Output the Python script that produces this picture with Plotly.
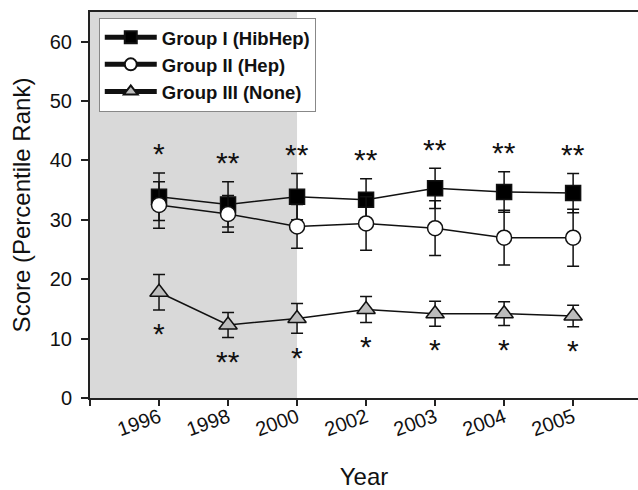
import plotly.graph_objects as go

# Survey years and group scores (mean percentile rank with error)
years = ["1996", "1998", "2000", "2002", "2003", "2004", "2005"]
group1_mean = [33.9, 32.6, 33.9, 33.4, 35.3, 34.7, 34.5]
group1_err = [4.0, 3.8, 3.9, 3.5, 3.4, 3.4, 3.3]
group2_mean = [32.5, 31.0, 28.9, 29.4, 28.6, 27.0, 27.0]
group2_err = [3.9, 3.1, 3.7, 4.5, 4.6, 4.6, 4.8]
group3_mean = [17.8, 12.3, 13.4, 14.9, 14.2, 14.2, 13.8]
group3_err = [3.0, 2.1, 2.5, 2.2, 2.1, 2.0, 1.8]

# Significance markers above the top group and below the bottom group
sig_upper = ["*", "**", "**", "**", "**", "**", "**"]
sig_lower = ["*", "**", "*", "*", "*", "*", "*"]

shade_until = "2000"

FONT = "Liberation Sans, Arial, sans-serif"
pos = list(range(len(years)))

fig = go.Figure()


def add_group(name, mean, err, symbol, fill, size):
    fig.add_trace(go.Scatter(
        x=pos, y=mean, name=name, mode="lines+markers",
        line=dict(color="#111111", width=1.5),
        marker=dict(symbol=symbol, size=size, color=fill,
                    line=dict(color="#111111", width=1.5)),
        error_y=dict(type="data", array=err, visible=True,
                     color="#111111", thickness=1.5, width=6),
    ))


add_group("Group I (HibHep)", group1_mean, group1_err, "square", "#000000", 15)
add_group("Group II (Hep)", group2_mean, group2_err, "circle", "#ffffff", 15)
add_group("Group III (None)", group3_mean, group3_err, "triangle-up", "#bdbdbd", 16)

# Shaded period up to the 2000 survey
fig.add_shape(type="rect", xref="x", yref="paper",
              x0=-1, x1=years.index(shade_until), y0=0, y1=1,
              fillcolor="#d9d9d9", line=dict(width=0), layer="below")

for i, txt in enumerate(sig_upper):
    fig.add_annotation(x=pos[i], y=group1_mean[i] + group1_err[i] + 3.2,
                       text=txt, showarrow=False, yanchor="middle",
                       font=dict(family=FONT, size=30, color="#111111"))
for i, txt in enumerate(sig_lower):
    fig.add_annotation(x=pos[i], y=group3_mean[i] - group3_err[i] - 4.0,
                       text=txt, showarrow=False, yanchor="middle",
                       font=dict(family=FONT, size=30, color="#111111"))

fig.update_layout(
    width=638, height=490,
    margin=dict(l=90, r=0, t=12, b=92),
    paper_bgcolor="white", plot_bgcolor="white",
    font=dict(family=FONT, color="#111111"),
    showlegend=True,
    legend=dict(x=0.016, y=0.985, xanchor="left", yanchor="top",
                bgcolor="white", bordercolor="#888888", borderwidth=1,
                font=dict(family=FONT, size=18.5, color="#111111", weight="bold"),
                tracegroupgap=0, itemsizing="constant", itemwidth=52),
    xaxis=dict(
        range=[-1, 6.94], tickmode="array",
        tickvals=[-1] + pos, ticktext=[""] + years,
        tickangle=-20, ticks="outside", ticklen=6, tickwidth=1.5,
        tickcolor="#222222", showline=True, linecolor="#222222",
        linewidth=2, mirror=True, showgrid=False, zeroline=False,
        tickfont=dict(family=FONT, size=20, color="#111111"),
        ticklabelstandoff=-8,
        title=dict(text="Year", standoff=34,
                   font=dict(family=FONT, size=24, color="#111111")),
    ),
    yaxis=dict(
        range=[0, 65], tickmode="linear", tick0=0, dtick=10,
        ticks="outside", ticklen=7, tickwidth=1.5, tickcolor="#222222",
        showline=True, linecolor="#222222", linewidth=2,
        showgrid=False, zeroline=False,
        tickfont=dict(family=FONT, size=20, color="#111111"),
        ticklabelstandoff=5,
        title=dict(text="Score (Percentile Rank)", standoff=12,
                   font=dict(family=FONT, size=24, color="#111111")),
    ),
)

fig.write_html("out.html")
